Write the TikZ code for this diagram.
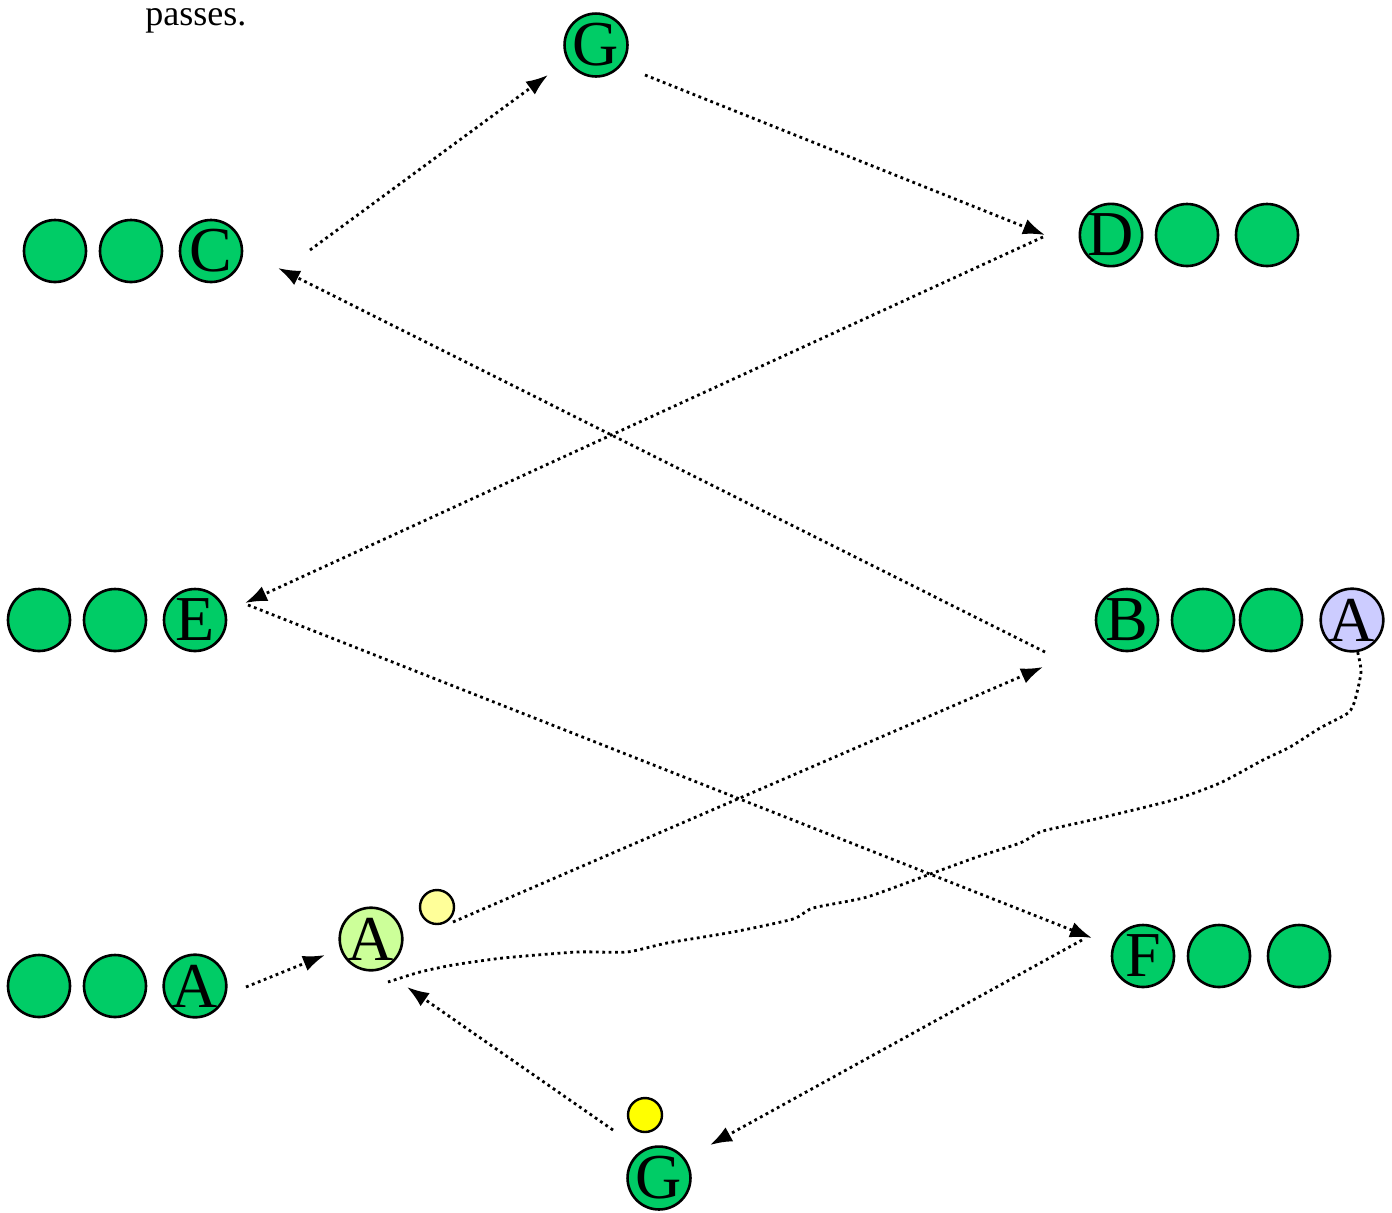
\documentclass[tikz,border=0pt]{standalone}
\usepackage{fontspec}
\setmainfont{Liberation Serif}
\usepackage{tikz}
\usetikzlibrary{arrows.meta}
\tikzset{>={Latex[length=11pt,width=8pt]}}
\definecolor{tokgreen}{RGB}{0,204,102}
\definecolor{tokblue}{RGB}{204,204,255}
\definecolor{tokmint}{RGB}{204,255,153}
\definecolor{palesun}{RGB}{255,255,153}
\definecolor{sun}{RGB}{255,255,0}

\begin{document}
\begin{tikzpicture}[x=0.5pt,y=-0.5pt]
      \tikzstyle{token}=[circle,draw,line width=1.3pt,minimum size=31pt,inner sep=0pt,fill=tokgreen,font=\fontsize{32}{32}\selectfont];
      \tikzstyle{pebble}=[circle,draw,line width=1.2pt,minimum size=17pt,inner sep=0pt];
      \tikzstyle{hop}=[line width=1.4pt,dash pattern=on 1.4pt off 1.8pt];
      \useasboundingbox (0,0) rectangle (1392,1212);

      \node[anchor=base west,inner sep=0pt,text height=1ex,font=\fontsize{18}{18}\selectfont] (note) at (145,25) {passes.};

      % top and bottom G
      \node[token] (gTop) at (596,45) {G};
      \node[token] (gBot) at (659,1178) {G};
      \node[pebble,fill=sun] (sunDot) at (645,1115) {};

      % row C
      \node[token] (c1) at (55,251) {};
      \node[token] (c2) at (131,251) {};
      \node[token] (nC) at (211,251) {C};
      % row D
      \node[token] (nD) at (1111,235) {D};
      \node[token] (d2) at (1187,235) {};
      \node[token] (d3) at (1267,235) {};
      % row E
      \node[token] (e1) at (39,620) {};
      \node[token] (e2) at (115,620) {};
      \node[token] (nE) at (195,620) {E};
      % row B
      \node[token] (nB) at (1127,620) {B};
      \node[token] (b2) at (1203,620) {};
      \node[token] (b3) at (1271,620) {};
      \node[token,fill=tokblue] (aBlue) at (1352,620) {A};
      % row A
      \node[token] (a1) at (39,986) {};
      \node[token] (a2) at (115,986) {};
      \node[token] (nA) at (195,986) {A};
      \node[token,fill=tokmint] (aMid) at (371,939) {A};
      \node[pebble,fill=palesun] (paleDot) at (437,907) {};
      % row F
      \node[token] (nF) at (1143,956) {F};
      \node[token] (f2) at (1219,956) {};
      \node[token] (f3) at (1299,956) {};

      % arrow ends
      \coordinate (cOut) at (310,250);
      \coordinate (cIn) at (278,268);
      \coordinate (gTopIn) at (548,75);
      \coordinate (gTopOut) at (645,75);
      \coordinate (dIn) at (1045,235);
      \coordinate (dOut) at (1043,237);
      \coordinate (eIn) at (245,603);
      \coordinate (eOut) at (248,605);
      \coordinate (bIn) at (1043,667);
      \coordinate (bOut) at (1045,652);
      \coordinate (fIn) at (1092,938);
      \coordinate (fOut) at (1082,940);
      \coordinate (gBotIn) at (710,1145);
      \coordinate (gBotOut) at (613,1130);
      \coordinate (aMidIn) at (325,955);
      \coordinate (aMidIn2) at (407,987);
      \coordinate (aMidTail) at (388,982);
      \coordinate (aOut) at (246,987);
      \coordinate (paleOut) at (453,922);

      \draw[hop,->] (cOut) -- (gTopIn);
      \draw[hop,->] (gTopOut) -- (dIn);
      \draw[hop,->] (dOut) -- (eIn);
      \draw[hop,->] (bOut) -- (cIn);
      \draw[hop,->] (eOut) -- (fIn);
      \draw[hop,->] (fOut) -- (gBotIn);
      \draw[hop,->] (gBotOut) -- (aMidIn2);
      \draw[hop,->] (aOut) -- (aMidIn);
      \draw[hop,->] (paleOut) -- (bIn);

      % wandering path of the blue A
      \draw[hop] plot[smooth,tension=0.4] coordinates {(aBlue.-80) (1361,672) (1355,700) (1348,713) (1320,728) (1290,747) (1263,760) (1220,783) (1173,800) (1100,818) (1060,827) (1040,832) (1020,843) (977,857) (933,873) (867,897) (813,908) (793,919) (733,932) (667,943) (627,952) (577,952) (503,958) (453,965) (420,972) (aMidTail)};
\end{tikzpicture}
\end{document}
